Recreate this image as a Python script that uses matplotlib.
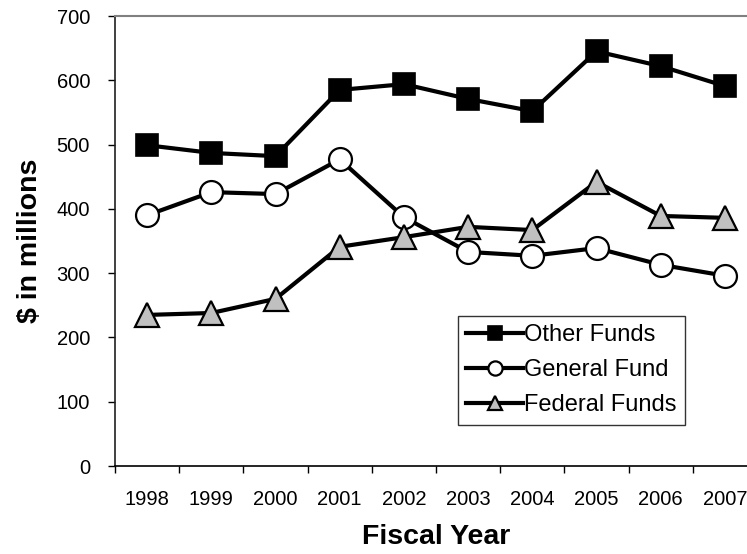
import matplotlib
matplotlib.use("Agg")
import matplotlib.pyplot as plt
from matplotlib.ticker import FixedLocator

plt.rcParams['font.family'] = ['Liberation Sans', 'DejaVu Sans']

years = ["1998", "1999", "2000", "2001", "2002", "2003", "2004", "2005", "2006", "2007"]
other_funds = [499, 487, 482, 585, 594, 571, 552, 645, 622, 591]
general_fund = [390, 426, 423, 477, 387, 333, 327, 339, 313, 296]
federal_funds = [235, 238, 260, 341, 356, 372, 367, 442, 389, 386]

fig = plt.figure(figsize=(7.47, 5.54), dpi=100)
ax = fig.add_axes([115 / 747, 88 / 554, 642 / 747, 450 / 554])

x = list(range(len(years)))
ax.plot(x, other_funds, color='black', lw=3, marker='s', ms=16,
        mfc='black', mec='black', mew=1.2, label='Other Funds', zorder=3)
ax.plot(x, general_fund, color='black', lw=3, marker='o', ms=16.5,
        mfc='white', mec='black', mew=1.6, label='General Fund', zorder=3)
ax.plot(x, federal_funds, color='black', lw=3, marker='^', ms=17,
        mfc='#c0c0c0', mec='black', mew=1.6, label='Federal Funds', zorder=3)

ax.set_xlim(-0.5, len(years) - 0.5)
ax.set_ylim(0, 700)
ax.set_yticks(range(0, 701, 100))
ax.set_xticks(x)
ax.set_xticklabels(years)
# year boundaries carry the tick marks, years sit between them
ax.xaxis.set_minor_locator(FixedLocator([i - 0.5 for i in range(len(years) + 1)]))
ax.tick_params(axis='x', which='major', length=0, pad=17, labelsize=14.5)
ax.tick_params(axis='x', which='minor', length=5, width=1, direction='out')
ax.tick_params(axis='y', length=5, width=1, direction='out', labelsize=14.5, pad=13)

ax.spines['right'].set_visible(False)
ax.spines['top'].set_color('#808080')
ax.spines['top'].set_linewidth(1.5)
ax.spines['left'].set_color('#202020')
ax.spines['left'].set_linewidth(1.2)
ax.spines['bottom'].set_linewidth(1.2)

ax.set_xlabel('Fiscal Year', fontsize=20.5, fontweight='bold', labelpad=11)
ax.set_ylabel('$ in millions', fontsize=20.5, fontweight='bold', labelpad=10)

leg = ax.legend(loc='upper left', bbox_to_anchor=((458 - 115) / 642, (466 - 316) / 450),
                frameon=True, fancybox=False, edgecolor='black', fontsize=17,
                handlelength=2.4, handletextpad=0.05, borderpad=0.35, labelspacing=0.55,
                borderaxespad=0, markerscale=0.62)
leg.get_frame().set_linewidth(1.0)

fig.savefig('out.png', dpi=100)
